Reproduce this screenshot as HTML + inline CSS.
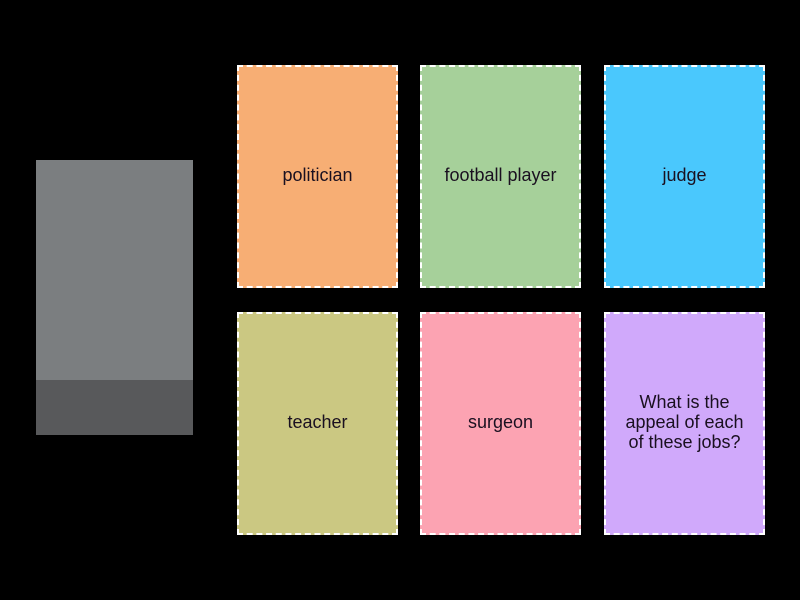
<!DOCTYPE html>
<html><head><style>
body{margin:0;width:800px;height:600px;background:#000;position:relative;overflow:hidden;font-family:"Liberation Sans",sans-serif;}
.g{position:absolute;left:36px;top:160px;width:157px;height:220px;background:#7b7e80;}
.g2{position:absolute;left:36px;top:380px;width:157px;height:55px;background:#58595b;}
.c{position:absolute;width:157px;height:216px;padding-bottom:3px;border:2px dashed #fff;display:flex;align-items:center;justify-content:center;text-align:center;font-size:18px;line-height:20px;color:#1a1020;box-sizing:content-box;}
</style></head><body>
<div class="g"></div><div class="g2"></div>
<div class="c" style="left:237px;top:65px;background:#f7ae74">politician</div>
<div class="c" style="left:420px;top:65px;background:#a6d09a">football player</div>
<div class="c" style="left:604px;top:65px;background:#4ac8fd">judge</div>
<div class="c" style="left:237px;top:312px;background:#cbc882">teacher</div>
<div class="c" style="left:420px;top:312px;background:#fca3b2">surgeon</div>
<div class="c" style="left:604px;top:312px;background:#d0a9fb">What is the<br>appeal of each<br>of these jobs?</div>
</body></html>
